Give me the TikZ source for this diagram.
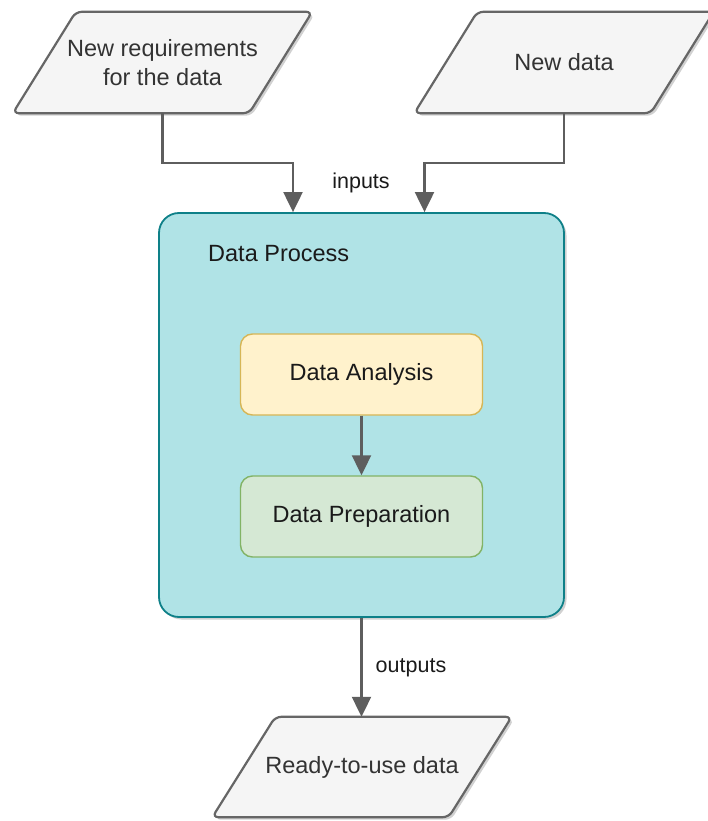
\documentclass[tikz,border=0pt]{standalone}
\usepackage{fontspec}
\setmainfont{Liberation Sans}
\usetikzlibrary{arrows.meta,shadows,backgrounds}

\definecolor{paraFill}{HTML}{F5F5F5}
\definecolor{paraLine}{HTML}{666666}
\definecolor{paraText}{HTML}{333333}
\definecolor{procFill}{HTML}{B0E3E6}
\definecolor{procLine}{HTML}{0E8088}
\definecolor{anaFill}{HTML}{FFF2CC}
\definecolor{anaLine}{HTML}{D6B656}
\definecolor{prepFill}{HTML}{D5E8D4}
\definecolor{prepLine}{HTML}{82B366}
\definecolor{flowLine}{HTML}{5E5E5E}
\definecolor{inkText}{HTML}{1A1A1A}

\tikzset{
  softshadow/.style={drop shadow={shadow xshift=2.5pt, shadow yshift=-2.5pt, fill=black, opacity=0.18}},
  ptext/.style={inner sep=0pt, minimum width=236pt, minimum height=101pt, align=center,
    text=paraText, font=\fontsize{23.5}{28.5}\selectfont},
  para/.style={draw=paraLine, fill=paraFill, line width=2.2pt, rounded corners=6pt, softshadow},
  container/.style={draw=procLine, fill=procFill, line width=1.8pt, rounded corners=20pt,
    minimum width=405pt, minimum height=404pt, inner sep=0pt, softshadow},
  stepbox/.style={line width=1.4pt, rounded corners=12pt, minimum width=242pt, minimum height=81pt,
    inner sep=0pt, text=inkText, font=\fontsize{23.5}{28}\selectfont},
  flow/.style={draw=flowLine, line width=2.1pt,
    -{Triangle[width=19pt, length=20pt]}},
  lbl/.style={inner sep=1pt, text=inkText, font=\fontsize{21.5}{26}\selectfont},
}

\begin{document}
\begin{tikzpicture}[x=1pt, y=-1pt]
  \clip (0,0) rectangle (708,821);

  % input and output data shapes (text nodes with a slanted outline behind)
  \node[ptext] (req) at (162.5,62.5) {New requirements\\for the data};
  \node[ptext] (dat) at (564,62.5) {New data};
  \node[ptext, minimum height=100pt] (out) at (362,767) {Ready-to-use data};
  \begin{scope}[on background layer]
    \foreach \n in {req,dat,out}{
      \draw[para] ([xshift=-31.5pt]\n.south west) -- ([xshift=31.5pt]\n.north west)
        -- ([xshift=31.5pt]\n.north east) -- ([xshift=-31.5pt]\n.south east) -- cycle;
    }
  \end{scope}

  % process container with its two steps
  \node[container] (proc) at (361.5,415) {};
  \node[anchor=west, inner sep=0pt, text=inkText, font=\fontsize{23.5}{28}\selectfont]
    (proctitle) at (208,254) {Data Process};
  \node[stepbox, draw=anaLine, fill=anaFill] (ana) at (361.5,374.5) {Data Analysis};
  \node[stepbox, draw=prepLine, fill=prepFill] (prep) at (361.5,516.5) {Data Preparation};

  % connectors
  \draw[flow] (req.south) -- ++(0,50) -| ([xshift=-68.5pt]proc.north);
  \draw[flow] (dat.south) -- ++(0,50) -| ([xshift=63pt]proc.north);
  \draw[flow] (ana.south) -- (prep.north);
  \draw[flow] (proc.south) -- (proc.south |- out.north);

  \node[lbl] (inlbl) at (361,183) {inputs};
  \node[lbl] (outlbl) at (411,668) {outputs};
\end{tikzpicture}
\end{document}
